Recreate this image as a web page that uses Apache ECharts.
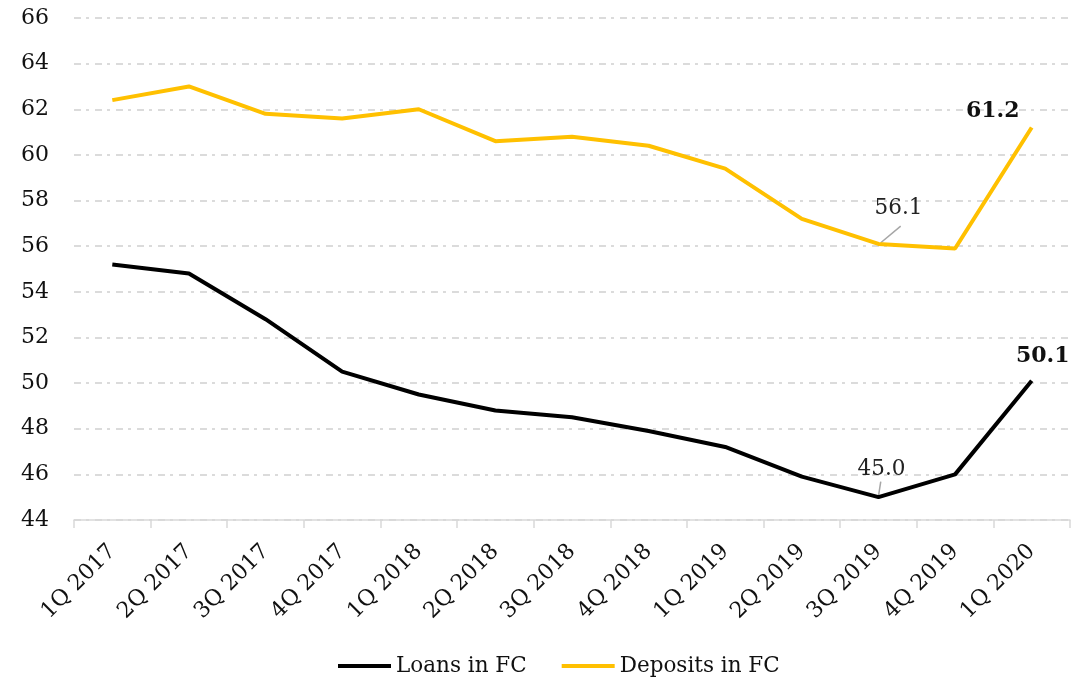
<!DOCTYPE html>
<html><head><meta charset="utf-8">
<script src="https://cdn.jsdelivr.net/npm/echarts@6/dist/echarts.min.js"></script>
<style>html,body{margin:0;padding:0;background:#fff}#c{width:1087px;height:684px}</style>
</head><body><div id="c"></div>
<script>
const categories = ['1Q 2017','2Q 2017','3Q 2017','4Q 2017','1Q 2018','2Q 2018','3Q 2018','4Q 2018','1Q 2019','2Q 2019','3Q 2019','4Q 2019','1Q 2020'];
const loans = [55.2, 54.8, 52.8, 50.5, 49.5, 48.8, 48.5, 47.9, 47.2, 45.9, 45.0, 46.0, 50.1];
const deposits = [62.4, 63.0, 61.8, 61.6, 62.0, 60.6, 60.8, 60.4, 59.4, 57.2, 56.1, 55.9, 61.2];
const yTicks = {min: 44, max: 66, interval: 2};

const FONT = 'DejaVu Serif';
const chart = echarts.init(document.getElementById('c'));

function labelled(values, idxNormal, idxBold, normalOffset, boldOffset) {
  return values.map((v, i) => {
    if (i === idxNormal) return {value: v, label: {show: true, position: 'top', distance: 8, offset: normalOffset, fontFamily: FONT, fontSize: 21.5, color: '#222', formatter: p => p.value.toFixed(1)}};
    if (i === idxBold) return {value: v, label: {show: true, position: 'top', distance: 12, offset: boldOffset, fontFamily: FONT, fontSize: 22, fontWeight: 'bold', color: '#111', formatter: p => p.value.toFixed(1)}};
    return v;
  });
}

// short grey leader line from a labelled point toward its label (offsets in axis units)
function leader(name, values, idx, x0, y0, x1, y1) {
  return {
    name: name, type: 'line', xAxisIndex: 1, silent: true, z: 1,
    symbol: 'none', lineStyle: {color: '#a6a6a6', width: 1.5},
    data: [[idx + x0, values[idx] + y0], [idx + x1, values[idx] + y1]]
  };
}

chart.setOption({
  animation: false,
  grid: {left: 74, right: 17, top: 18, bottom: 164, containLabel: false},
  legend: {
    bottom: 2, left: 333, itemWidth: 53, itemHeight: 4, itemGap: 35,
    icon: 'rect',
    textStyle: {fontFamily: FONT, fontSize: 21.5, color: '#111'},
    data: ['Loans in FC', 'Deposits in FC']
  },
  xAxis: [{
    type: 'category', data: categories, boundaryGap: true,
    axisLine: {lineStyle: {color: '#d9d9d9', width: 1.5}},
    axisTick: {show: true, length: 8, lineStyle: {color: '#d9d9d9', width: 1.5}},
    axisLabel: {rotate: 45, margin: 28, fontFamily: FONT, fontSize: 22, color: '#111', interval: 0}
  }, {
    type: 'value', min: -0.5, max: categories.length - 0.5, show: false
  }],
  yAxis: {
    type: 'value', min: yTicks.min, max: yTicks.max, interval: yTicks.interval,
    axisLine: {show: false}, axisTick: {show: false},
    axisLabel: {margin: 25, fontFamily: FONT, fontSize: 22, color: '#111'},
    splitLine: {lineStyle: {color: '#d0d0d0', width: 1.5, type: [7, 5, 3, 6]}}
  },
  series: [
    {
      name: 'Loans in FC', type: 'line', data: labelled(loans, 10, 12, [3, -9], [11, -2]),
      symbol: 'circle', symbolSize: 0, showSymbol: true, showAllSymbol: true, z: 3,
      lineStyle: {color: '#000', width: 4}, itemStyle: {color: '#000'}
    },
    {
      name: 'Deposits in FC', type: 'line', data: labelled(deposits, 10, 12, [20, -16], [-39, 7]),
      symbol: 'circle', symbolSize: 0, showSymbol: true, showAllSymbol: true, z: 3,
      lineStyle: {color: '#ffc000', width: 4}, itemStyle: {color: '#ffc000'}
    },
    leader('loansLeader', loans, 10, 0.0, 0.05, 0.03, 0.68),
    leader('depositsLeader', deposits, 10, 0.03, 0.05, 0.29, 0.78)
  ]
});
</script></body></html>
